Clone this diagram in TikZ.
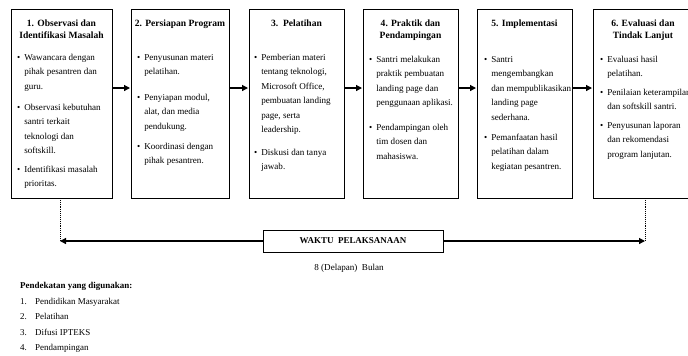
\documentclass[tikz,border=0pt]{standalone}
\usepackage{fontspec}
\setmainfont{Liberation Serif}
\usetikzlibrary{arrows.meta}
\newcommand\bodyfont{\fontsize{9.1}{14.6}\selectfont}
\newcommand\titlefont{\fontsize{9.6}{11.6}\selectfont\bfseries}
\newcommand\bitem[1]{\begin{tabular}[t]{@{}l@{\hspace{4bp}}l@{}}\textbullet & #1\end{tabular}}
\newcommand\ttl[1]{\begin{tabular}[t]{@{}c@{}}#1\end{tabular}}
\tikzset{
  stagebox/.style={draw, line width=0.9bp, rectangle, anchor=north west, minimum height=189bp, inner sep=0pt},
  stagetitle/.style={anchor=base, inner sep=0pt, font=\titlefont},
  bul/.style={anchor=base west, inner sep=0pt, font=\bodyfont},
  flow/.style={line width=1.3bp, -{Triangle[length=6bp,width=6bp]}, shorten >=1bp},
  guide/.style={line width=0.9bp, densely dotted},
  txt/.style={anchor=base west, inner sep=0pt, font=\fontsize{9}{11}\selectfont}
}
\begin{document}
\begin{tikzpicture}[x=1bp,y=-1bp]
\useasboundingbox (0,0) rectangle (688,355);
% boxes
\node[stagebox, minimum width=101bp] (b1) at (11,9) {};
\node[stagebox, minimum width=98bp] (b2) at (131,9) {};
\node[stagebox, minimum width=95bp] (b3) at (249,9) {};
\node[stagebox, minimum width=95bp] (b4) at (363,9) {};
\node[stagebox, minimum width=95bp] (b5) at (477,9) {};
\node[stagebox, minimum width=100bp] (b6) at (593,9) {};
% titles
\node[stagetitle] (t1) at (61.5,26.5) {\ttl{1. Observasi dan\\Identifikasi Masalah}};
\node[stagetitle] (t2) at (180,26.5) {\ttl{2. Persiapan Program}};
\node[stagetitle] (t3) at (296.5,26.5) {\ttl{3.\ \ Pelatihan}};
\node[stagetitle] (t4) at (410.5,26.5) {\ttl{4. Praktik dan\\Pendampingan}};
\node[stagetitle] (t5) at (524.5,26.5) {\ttl{5. Implementasi}};
\node[stagetitle] (t6) at (643,26.5) {\ttl{6. Evaluasi dan\\Tindak Lanjut}};
% box 1
\node[bul] (p11) at (17,60) {\bitem{Wawancara dengan\\&pihak pesantren dan\\&guru.}};
\node[bul] (p12) at (17,110) {\bitem{Observasi kebutuhan\\&santri terkait\\&teknologi dan\\&softskill.}};
\node[bul] (p13) at (17,172) {\bitem{Identifikasi masalah\\&prioritas.}};
% box 2
\node[bul] (p21) at (137,60) {\bitem{Penyusunan materi\\&pelatihan.}};
\node[bul] (p22) at (137,100) {\bitem{Penyiapan modul,\\&alat, dan media\\&pendukung.}};
\node[bul] (p23) at (137,149) {\bitem{Koordinasi dengan\\&pihak pesantren.}};
% box 3
\node[bul] (p31) at (254,60) {\bitem{Pemberian materi\\&tentang teknologi,\\&Microsoft Office,\\&pembuatan landing\\&page, serta\\&leadership.}};
\node[bul] (p32) at (254,155) {\bitem{Diskusi dan tanya\\&jawab.}};
% box 4
\node[bul] (p41) at (369,62) {\bitem{Santri melakukan\\&praktik pembuatan\\&landing page dan\\&penggunaan aplikasi.}};
\node[bul] (p42) at (369,130) {\bitem{Pendampingan oleh\\&tim dosen dan\\&mahasiswa.}};
% box 5
\node[bul] (p51) at (484,62) {\bitem{Santri\\&mengembangkan\\&dan mempublikasikan\\&landing page\\&sederhana.}};
\node[bul] (p52) at (484,140) {\bitem{Pemanfaatan hasil\\&pelatihan dalam\\&kegiatan pesantren.}};
% box 6
\node[bul] (p61) at (600,62) {\bitem{Evaluasi hasil\\&pelatihan.}};
\node[bul] (p62) at (600,95) {\bitem{Penilaian keterampilan\\&dan softskill santri.}};
\node[bul] (p63) at (600,128) {\bitem{Penyusunan laporan\\&dan rekomendasi\\&program lanjutan.}};
% flow arrows
\coordinate (ay) at (0,88);
\draw[flow] (b1.east|-ay) -- (b2.west|-ay);
\draw[flow] (b2.east|-ay) -- (b3.west|-ay);
\draw[flow] (b3.east|-ay) -- (b4.west|-ay);
\draw[flow] (b4.east|-ay) -- (b5.west|-ay);
\draw[flow] (b5.east|-ay) -- (b6.west|-ay);
% time line
\node[draw, line width=0.9bp, minimum width=180bp, minimum height=22bp, inner sep=0pt, font=\fontsize{9}{11}\selectfont\bfseries] (w) at (353,241) {WAKTU\ \ PELAKSANAAN};
\coordinate (l1) at (60,198);
\coordinate (l2) at (60,241);
\coordinate (r1) at (645,198);
\coordinate (r2) at (645,241);
\draw[guide] (l1) -- (l2);
\draw[guide] (r1) -- (r2);
\draw[flow, shorten >=0pt] (w.west) -- (l2);
\draw[flow, shorten >=0pt] (w.east) -- (r2);
\node[anchor=base, inner sep=0pt, font=\fontsize{9.1}{11}\selectfont] (dur) at (349,270) {8 (Delapan)\ \ Bulan};
% approaches
\node[txt, font=\fontsize{9}{11}\selectfont\bfseries] (ph) at (20,288) {Pendekatan yang digunakan:};
\node[txt] (n1) at (20,304) {1.};
\node[txt] (a1) at (35,304) {Pendidikan Masyarakat};
\node[txt] (n2) at (20,319.5) {2.};
\node[txt] (a2) at (35,319.5) {Pelatihan};
\node[txt] (n3) at (20,335) {3.};
\node[txt] (a3) at (35,335) {Difusi IPTEKS};
\node[txt] (n4) at (20,350.5) {4.};
\node[txt] (a4) at (35,350.5) {Pendampingan};
\end{tikzpicture}
\end{document}
